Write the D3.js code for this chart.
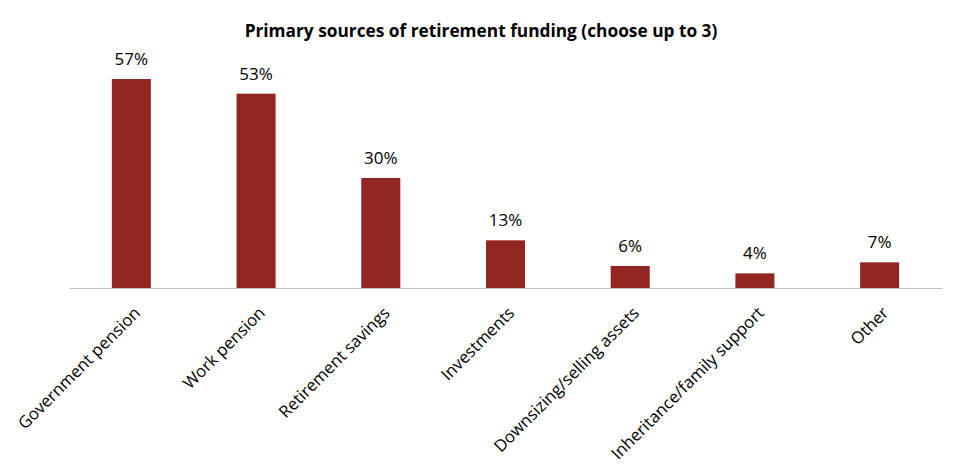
<!DOCTYPE html>
<html>
<head>
<meta charset="utf-8">
<script src="https://cdn.jsdelivr.net/npm/d3@7"></script>
<style>
  body { margin: 0; background: #fff; }
  svg { font-family: "Open Sans", sans-serif; }
</style>
</head>
<body>
<div id="chart"></div>
<script>
const categories = [
  'Government pension',
  'Work pension',
  'Retirement savings',
  'Investments',
  'Downsizing/selling assets',
  'Inheritance/family support',
  'Other'
];
const values = [57, 53, 30, 13, 6, 4, 7];
const titleText = 'Primary sources of retirement funding (choose up to 3)';

const width = 965, height = 475;
const margin = { top: 79, right: 23, bottom: 187, left: 69 };

const svg = d3.select('#chart').append('svg')
  .attr('width', width)
  .attr('height', height);

// title
svg.append('text')
  .attr('x', 481)
  .attr('y', 37)
  .attr('text-anchor', 'middle')
  .style('font-size', '17.3px')
  .style('font-weight', 'bold')
  .attr('fill', '#000')
  .text(titleText);

const x = d3.scaleBand()
  .domain(categories)
  .range([margin.left, width - margin.right])
  .paddingInner(0.687)
  .paddingOuter(0.3435);

const y = d3.scaleLinear()
  .domain([0, 57])
  .range([height - margin.bottom, margin.top]);

// bars
svg.append('g')
  .selectAll('rect')
  .data(values)
  .enter()
  .append('rect')
  .attr('x', (d, i) => x(categories[i]))
  .attr('y', d => y(d))
  .attr('width', x.bandwidth())
  .attr('height', d => y(0) - y(d))
  .attr('fill', '#922622');

// value labels
svg.append('g')
  .selectAll('text')
  .data(values)
  .enter()
  .append('text')
  .attr('x', (d, i) => x(categories[i]) + x.bandwidth() / 2)
  .attr('y', d => y(d) - 14)
  .attr('text-anchor', 'middle')
  .style('font-size', '17px')
  .attr('fill', '#000')
  .text(d => d + '%');

// x axis
const xAxis = d3.axisBottom(x).tickSize(0).tickPadding(0);
const gx = svg.append('g')
  .attr('transform', `translate(0, ${y(0)})`)
  .call(xAxis);
gx.select('.domain').attr('stroke', '#bfbfbf').attr('stroke-width', 1);
gx.selectAll('text')
  .style('font-size', '16.7px')
  .style('font-family', '"Open Sans", sans-serif')
  .attr('fill', '#000')
  .attr('text-anchor', 'end')
  .attr('dy', null)
  .attr('y', 0)
  .attr('transform', 'translate(10, 26) rotate(-45)');
</script>
</body>
</html>
